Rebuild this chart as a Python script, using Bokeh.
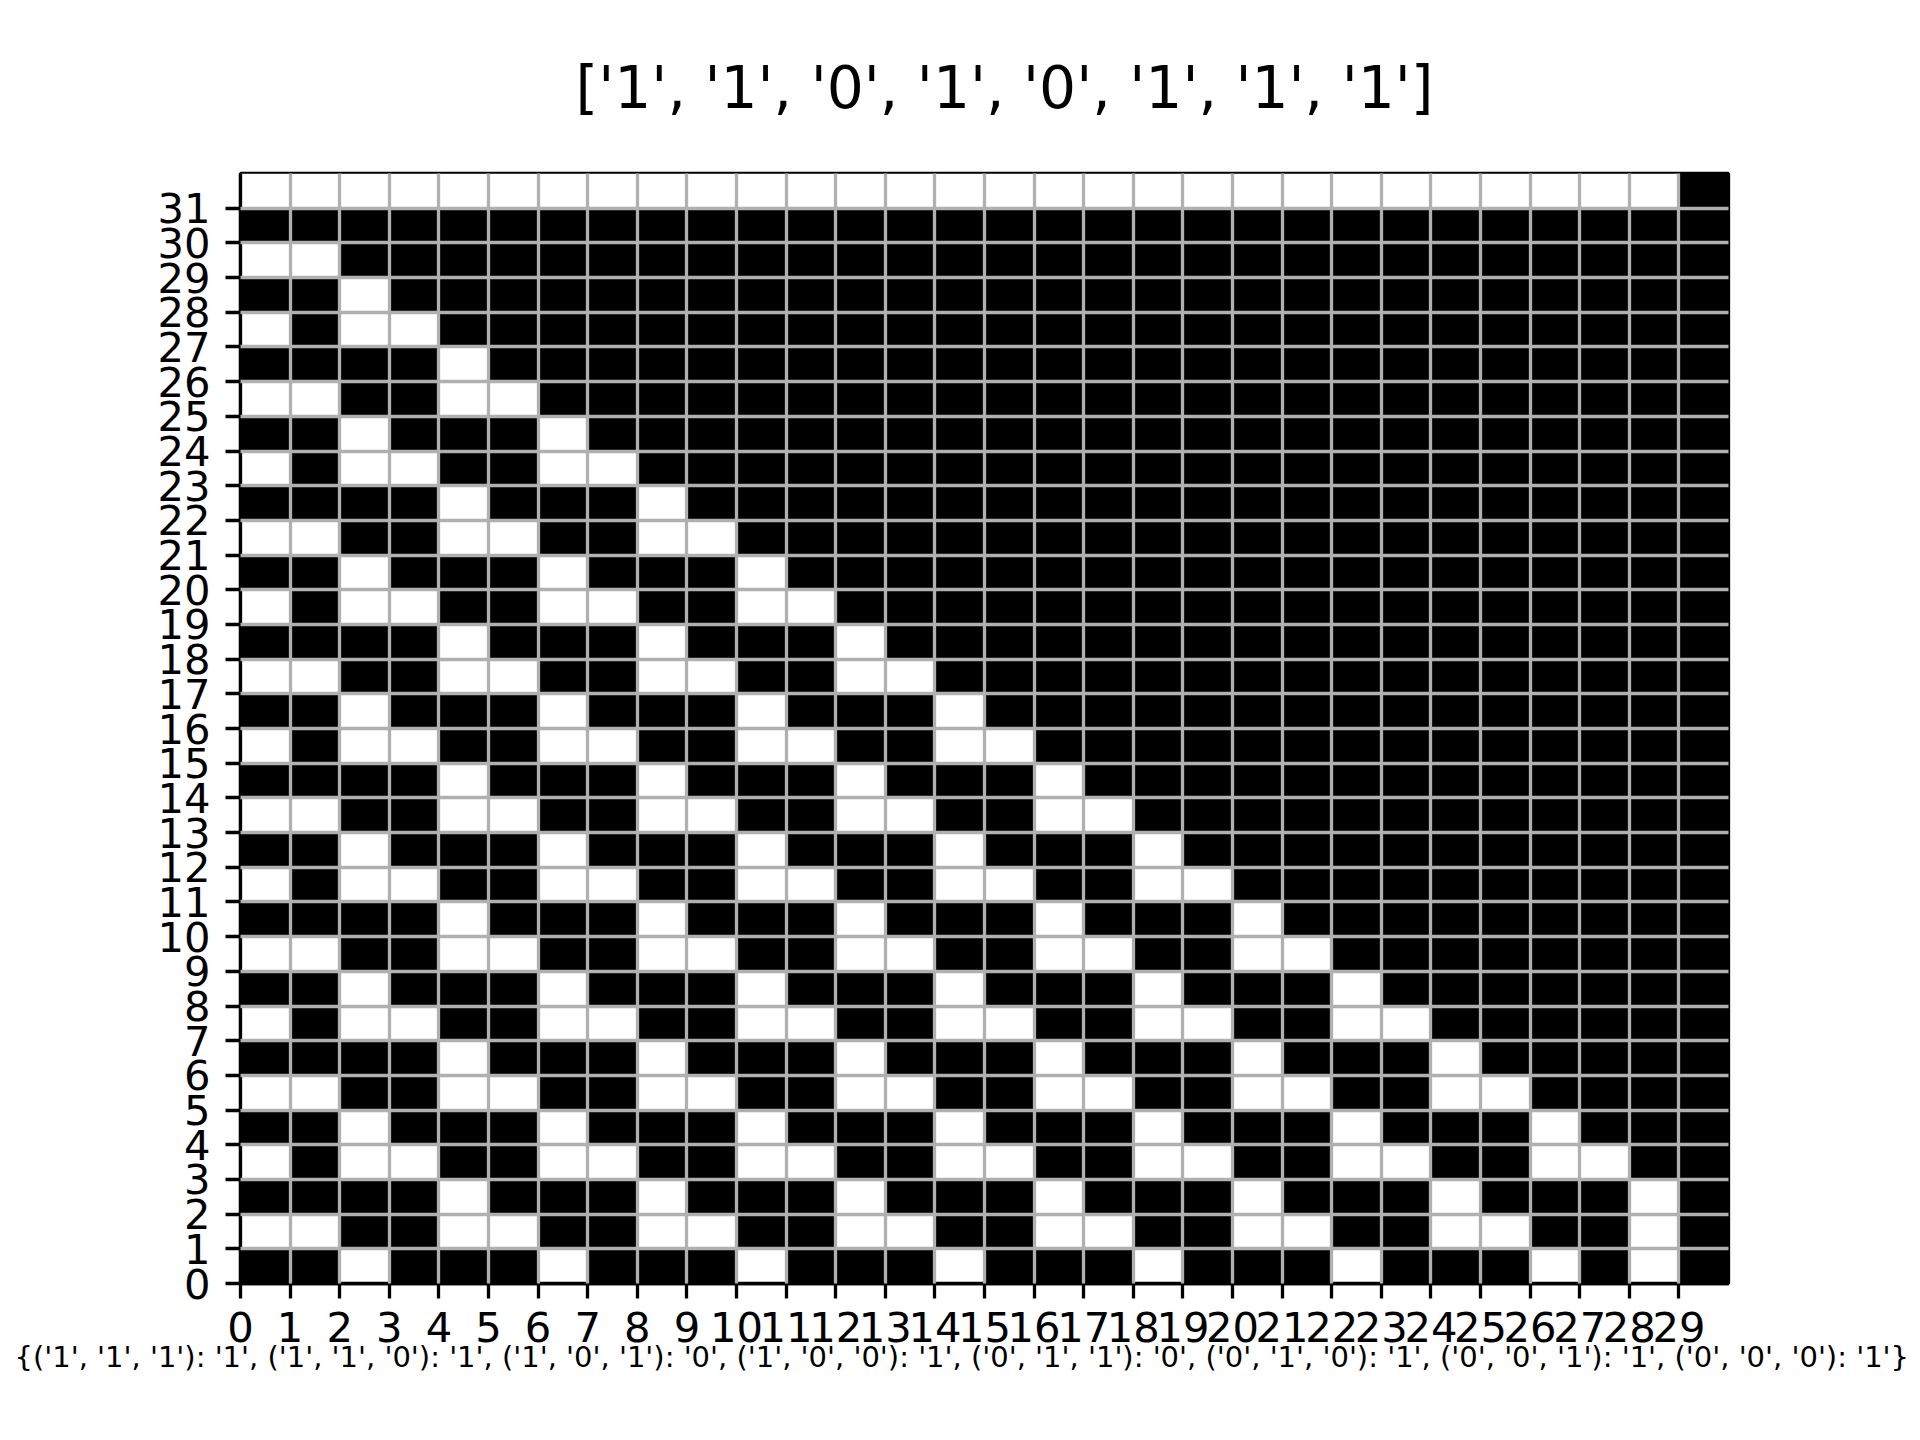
from bokeh.plotting import figure
from bokeh.models import ColumnDataSource, FixedTicker, Range1d, Title
from bokeh.embed import file_html
from bokeh.resources import INLINE

title_text = "['1', '1', '0', '1', '0', '1', '1', '1']"
rule_text = ("{('1', '1', '1'): '1', ('1', '1', '0'): '1', ('1', '0', '1'): '0', "
             "('1', '0', '0'): '1', ('0', '1', '1'): '0', ('0', '1', '0'): '1', "
             "('0', '0', '1'): '1', ('0', '0', '0'): '1'}")

# Cell states, listed from the top row (31) down to row 0; '1' = black, '0' = white
rows = [
    "000000000000000000000000000001",  # 31
    "111111111111111111111111111111",  # 30
    "001111111111111111111111111111",  # 29
    "110111111111111111111111111111",  # 28
    "010011111111111111111111111111",  # 27
    "111101111111111111111111111111",  # 26
    "001100111111111111111111111111",  # 25
    "110111011111111111111111111111",  # 24
    "010011001111111111111111111111",  # 23
    "111101110111111111111111111111",  # 22
    "001100110011111111111111111111",  # 21
    "110111011101111111111111111111",  # 20
    "010011001100111111111111111111",  # 19
    "111101110111011111111111111111",  # 18
    "001100110011001111111111111111",  # 17
    "110111011101110111111111111111",  # 16
    "010011001100110011111111111111",  # 15
    "111101110111011101111111111111",  # 14
    "001100110011001100111111111111",  # 13
    "110111011101110111011111111111",  # 12
    "010011001100110011001111111111",  # 11
    "111101110111011101110111111111",  # 10
    "001100110011001100110011111111",  # 9
    "110111011101110111011101111111",  # 8
    "010011001100110011001100111111",  # 7
    "111101110111011101110111011111",  # 6
    "001100110011001100110011001111",  # 5
    "110111011101110111011101110111",  # 4
    "010011001100110011001100110011",  # 3
    "111101110111011101110111011101",  # 2
    "001100110011001100110011001101",  # 1
    "110111011101110111011101110101",  # 0
]

x_ticks = list(range(0, 30))
y_ticks = list(range(0, 32))

n_rows = len(rows)
n_cols = len(rows[0])

left, right, bottom, top, colors = [], [], [], [], []
for i, s in enumerate(rows):
    r = n_rows - 1 - i
    for c, ch in enumerate(s):
        left.append(c)
        right.append(c + 1)
        bottom.append(r)
        top.append(r + 1)
        colors.append("#000000" if ch == "1" else "#ffffff")

src = ColumnDataSource(dict(left=left, right=right, bottom=bottom, top=top, color=colors))

p = figure(width=1920, height=1440,
           x_range=Range1d(0, n_cols), y_range=Range1d(0, n_rows),
           output_backend="svg", toolbar_location=None,
           min_border_left=240, min_border_right=192,
           min_border_top=173, min_border_bottom=157)

p.background_fill_color = "#ffffff"
p.border_fill_color = "#ffffff"
p.outline_line_color = "#000000"
p.outline_line_width = 3.3

p.quad(left="left", right="right", bottom="bottom", top="top",
       fill_color="color", line_color=None, source=src)

FONT = "DejaVu Sans"
for ax, ticks in ((p.xaxis, x_ticks), (p.yaxis, y_ticks)):
    ax.ticker = FixedTicker(ticks=ticks)
    ax.major_label_text_font = FONT
    ax.major_label_text_font_size = "41.7px"
    ax.major_label_text_color = "#000000"
    ax.major_tick_out = 15
    ax.major_tick_in = 0
    ax.major_tick_line_width = 3.3
    ax.major_tick_line_color = "#000000"
    ax.minor_tick_line_color = None
    ax.axis_line_color = "#000000"
    ax.axis_line_width = 3.3

p.xaxis.major_label_standoff = 13
p.yaxis.major_label_standoff = 15

p.xgrid.ticker = FixedTicker(ticks=x_ticks[1:])
p.ygrid.ticker = FixedTicker(ticks=y_ticks[1:])
for g in (p.xgrid, p.ygrid):
    g.grid_line_color = "#b0b0b0"
    g.grid_line_width = 3.3
    g.level = "overlay"

p.add_layout(Title(text=title_text, text_font=FONT, text_font_size="58.3px",
                   text_font_style="normal", text_color="#000000",
                   align="left", offset=335, standoff=103,
                   vertical_align="bottom"), "above")
p.add_layout(Title(text=rule_text, text_font=FONT, text_font_size="29px",
                   text_font_style="normal", text_color="#000000",
                   align="left", offset=-226, standoff=-10,
                   vertical_align="top"), "below")

open("out.html", "w").write(file_html(p, INLINE))
